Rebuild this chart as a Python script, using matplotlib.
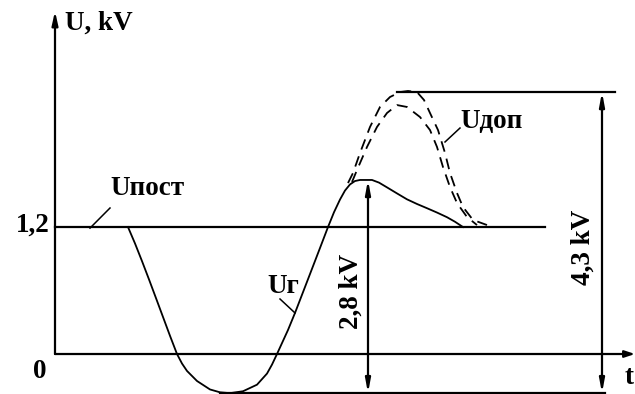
import numpy as np
import matplotlib
matplotlib.use('Agg')
import matplotlib.pyplot as plt

plt.rcParams['font.family'] = ['Liberation Serif', 'DejaVu Serif']
plt.rcParams['font.weight'] = 'bold'

# уровни напряжения, kV
u_zero = 0.0
u_post = 1.2
u_top = 2.476
u_bottom = -0.37
u_peak = 1.645

# U_г - напряжение генератора
t_gen = [73, 80, 87, 94, 101, 108, 115, 122, 127, 132, 142, 155, 165, 175, 188, 202,
         212, 217, 222, 233, 240, 255, 265, 273, 279, 285, 290, 295, 300, 305, 317, 324,
         332, 342, 352, 362, 372, 382, 392, 400, 408]
u_gen = [1.2, 1.045, 0.878, 0.705, 0.528, 0.35, 0.172, 0.0, -0.09, -0.16, -0.255, -0.335,
         -0.362, -0.370, -0.352, -0.29, -0.185, -0.10, 0.0, 0.227, 0.388, 0.756, 1.002, 1.2,
         1.34, 1.46, 1.545, 1.603, 1.635, 1.645, 1.645, 1.620, 1.575, 1.518, 1.462, 1.418,
         1.378, 1.337, 1.293, 1.250, 1.2]

# U_доп - две допустимые кривые (пунктир)
t_dop1 = [293, 298, 305, 315, 325, 335, 345, 353, 362, 369, 375, 383, 390, 395, 402, 408,
          418, 432]
u_dop1 = [1.616, 1.711, 1.900, 2.146, 2.335, 2.429, 2.476, 2.486, 2.476, 2.401, 2.278, 2.117,
          1.900, 1.711, 1.522, 1.389, 1.267, 1.219]
t_dop2 = [297, 302, 312, 322, 332, 342, 352, 365, 375, 382, 388, 395, 402, 412, 422]
u_dop2 = [1.626, 1.739, 1.957, 2.146, 2.278, 2.353, 2.335, 2.240, 2.117, 1.957, 1.767, 1.578,
          1.427, 1.295, 1.219]

# размерные стрелки
t_arrow28 = 313
t_arrow43 = 547

fig = plt.figure(figsize=(6.35, 3.94), dpi=100)
ax = fig.add_axes([0, 0, 1, 1])
ax.set_xlim(-55, 580)
ax.set_ylim(-0.378, 3.346)
ax.axis('off')

lw = 1.6
fs = 19.5

# оси
ax.annotate('', xy=(0, 3.24), xytext=(0, u_zero),
            arrowprops=dict(arrowstyle='-|>,head_length=0.8,head_width=0.18', color='k', lw=lw,
                            shrinkA=0, shrinkB=0))
ax.annotate('', xy=(580, u_zero), xytext=(0, u_zero),
            arrowprops=dict(arrowstyle='-|>,head_length=0.6,head_width=0.2', color='k', lw=lw,
                            shrinkA=0, shrinkB=0))

# горизонтальные уровни
ax.plot([0, 490], [u_post, u_post], color='k', lw=lw)
ax.plot([342, 560], [u_top, u_top], color='k', lw=lw)
ax.plot([165, 550], [u_bottom, u_bottom], color='k', lw=lw)

# кривые
ax.plot(t_gen, u_gen, color='k', lw=1.3, solid_joinstyle='round')
ax.plot(t_dop1, u_dop1, color='k', lw=1.3, dashes=(6, 4))
ax.plot(t_dop2, u_dop2, color='k', lw=1.3, dashes=(6, 4))

# размерные стрелки
for t, top in [(t_arrow28, u_peak), (t_arrow43, u_top)]:
    ax.annotate('', xy=(t, top), xytext=(t, u_bottom),
                arrowprops=dict(arrowstyle='<|-|>,head_length=0.8,head_width=0.15', color='k',
                                lw=lw, shrinkA=0, shrinkB=0))

# выноски
ax.plot([35, 55], [1.19, 1.38], color='k', lw=1.1)
ax.plot([225, 240], [0.52, 0.388], color='k', lw=1.1)
ax.plot([390, 405], [2.004, 2.136], color='k', lw=1.1)

# подписи
ax.text(10, 3.128, 'U, kV', fontsize=fs, ha='left', va='center')
ax.text(-5, 1.22, '1,2', fontsize=fs, ha='right', va='center')
ax.text(-15, -0.17, '0', fontsize=fs, ha='center', va='center')
ax.text(579, -0.22, 't', fontsize=fs, ha='right', va='center')
ax.text(55, 1.56, 'Uпост', fontsize=fs, ha='left', va='center')
ax.text(212, 0.64, 'Uг', fontsize=fs, ha='left', va='center')
ax.text(405, 2.2, 'Uдоп', fontsize=fs, ha='left', va='center')
ax.text(296, 0.595, '2,8 kV', fontsize=fs, ha='center', va='center', rotation=90)
ax.text(528, 1.011, '4,3 kV', fontsize=fs, ha='center', va='center', rotation=90)

fig.savefig('out.png', dpi=100)
